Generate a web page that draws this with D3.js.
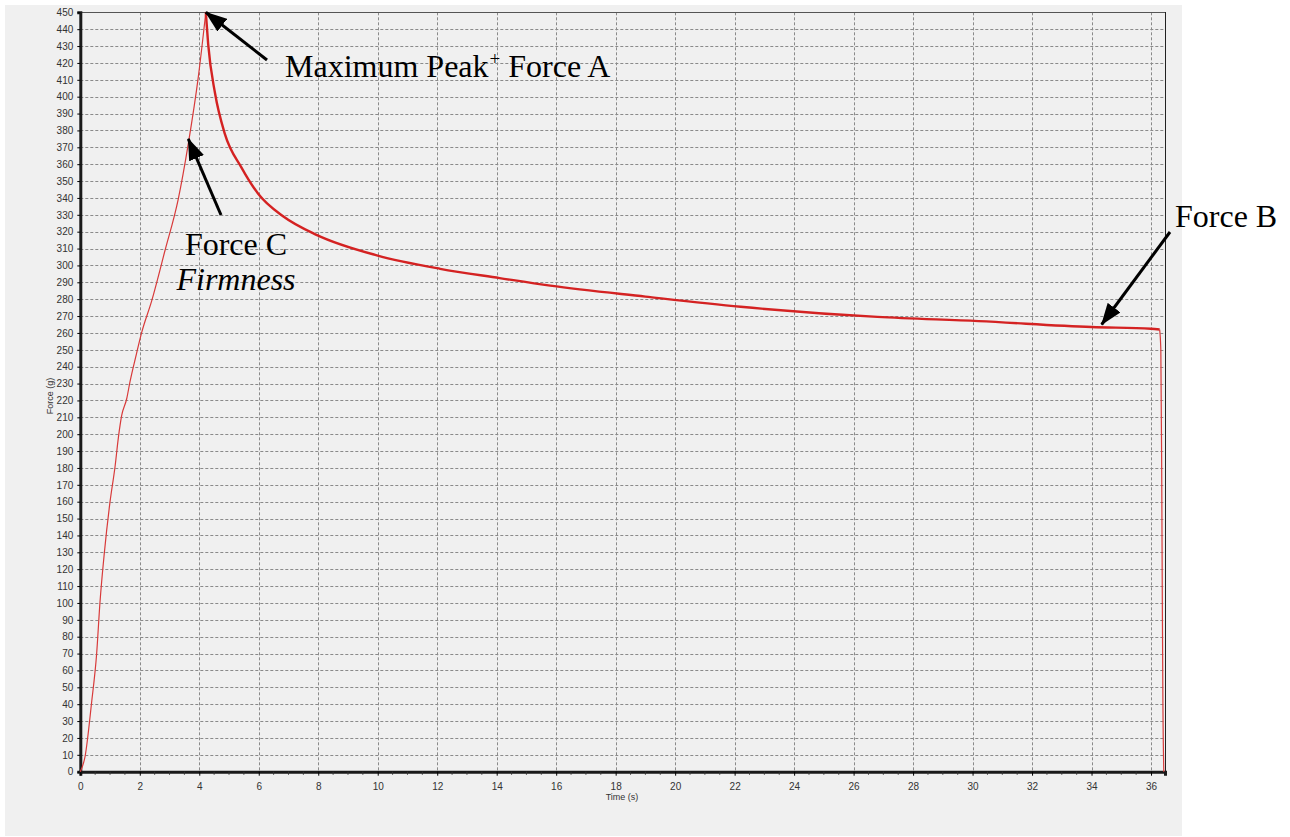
<!DOCTYPE html>
<html lang="en">
<head>
<meta charset="utf-8">
<title>Force vs Time</title>
<script src="https://cdn.jsdelivr.net/npm/d3@7/dist/d3.min.js"></script>
<style>
	body { margin: 0; background: #fff; }
	.tick-label { font-family: Arial, "Liberation Sans", sans-serif; font-size: 10px; fill: #333; }
	.note { font-family: "Times New Roman", "Liberation Serif", serif; font-size: 32px; fill: #000; }
</style>
</head>
<body>
<svg id="chart" width="1290" height="837"></svg>
<script type="text/javascript">

	// loading phase: probe pushing in, up to the peak
	var loadTime  = [0, 0.16, 0.38, 0.55, 0.66, 0.81, 1.0, 1.17, 1.28, 1.39, 1.56, 1.67, 1.88, 2.06, 2.40, 2.85, 3.29, 3.63, 3.97, 4.22];
	var loadForce = [0, 9, 41, 70, 100, 130, 160, 181, 198, 211, 221, 231, 247, 260, 279, 309, 339, 372, 412, 450];

	// relaxation phase: hold, force decays
	var relaxTime  = [4.22, 4.30, 4.53, 4.86, 5.42, 5.98, 6.83, 7.96, 9.97, 12.1, 14.1, 15.8, 19.0, 22.2, 26.8, 30.2, 34.0, 36.0, 36.29];
	var relaxForce = [450, 431, 402, 378, 358, 342.5, 329, 318, 306, 298, 292.5, 288, 281.5, 275.5, 269.5, 267, 263.5, 262.5, 262];

	// probe withdrawn
	var unloadTime  = [36.29, 36.33, 36.36, 36.38, 36.40, 36.43];
	var unloadForce = [262, 250, 175, 100, 40, 0];

	var xTicks = d3.range(0, 37, 2);
	var yTicks = d3.range(0, 451, 10);

	// annotations: arrow tip in data units
	var notes = [
		{ tip: [4.22, 450], tail: [267, 60] },
		{ tip: [3.63, 375], tail: [221, 215] },
		{ tip: [34.34, 265], tail: [1170, 232] }
	];

	var svg = d3.select("#chart");

	svg.append("rect")
		.attr("x", 5).attr("y", 5)
		.attr("width", 1177).attr("height", 831)
		.attr("fill", "#f0f0f0");

	var x = d3.scaleLinear().domain([0, 36.47]).range([80.3, 1165]);
	var y = d3.scaleLinear().domain([0, 450]).range([771.7, 12.3]);

	var g = svg.append("g");

	// grid
	g.append("g").selectAll("line")
		.data(yTicks.filter(function(d) { return d > 0; }))
		.enter().append("line")
		.attr("x1", x(0)).attr("x2", 1165)
		.attr("y1", function(d) { return Math.round(y(d)) + 0.5; })
		.attr("y2", function(d) { return Math.round(y(d)) + 0.5; })
		.attr("stroke", "#8a8a8a")
		.attr("stroke-dasharray", "3,2");

	g.append("g").selectAll("line")
		.data(xTicks.filter(function(d) { return d > 0; }))
		.enter().append("line")
		.attr("y1", y(450)).attr("y2", y(0))
		.attr("x1", function(d) { return Math.round(x(d)) + 0.5; })
		.attr("x2", function(d) { return Math.round(x(d)) + 0.5; })
		.attr("stroke", "#8a8a8a")
		.attr("stroke-dasharray", "3,2");

	// frame
	g.append("line")
		.attr("x1", x(0)).attr("x2", 1165)
		.attr("y1", 12.5).attr("y2", 12.5)
		.attr("stroke", "#555");
	g.append("line")
		.attr("x1", 1165.5).attr("x2", 1165.5)
		.attr("y1", 12).attr("y2", y(0))
		.attr("stroke", "#222");

	// y axis
	var yAxis = g.append("g")
		.attr("transform", "translate(" + x(0) + ",0)")
		.call(d3.axisLeft(y).tickValues(yTicks).tickSize(3).tickPadding(4));
	yAxis.select(".domain").attr("stroke", "#1a1a1a").attr("stroke-width", 3);
	yAxis.selectAll("text").attr("class", "tick-label").attr("fill", null);

	// x axis: major + minor
	var xAxis = g.append("g")
		.attr("transform", "translate(0," + y(0) + ")")
		.call(d3.axisBottom(x).tickValues(xTicks).tickSize(4).tickPadding(7));
	xAxis.select(".domain").attr("stroke", "#1a1a1a").attr("stroke-width", 3);
	xAxis.selectAll("text").attr("class", "tick-label").attr("fill", null);

	g.append("g").selectAll("line")
		.data(d3.range(0.5, 36.4, 0.5).filter(function(d) { return d % 2 !== 0; }))
		.enter().append("line")
		.attr("x1", function(d) { return x(d); })
		.attr("x2", function(d) { return x(d); })
		.attr("y1", y(0)).attr("y2", y(0) + 3)
		.attr("stroke", "#333");

	g.append("text")
		.attr("class", "tick-label")
		.attr("x", 622).attr("y", 800)
		.attr("text-anchor", "middle")
		.style("font-size", "9px")
		.text("Time (s)");

	g.append("text")
		.attr("class", "tick-label")
		.attr("transform", "translate(53,396) rotate(-90)")
		.attr("text-anchor", "middle")
		.style("font-size", "9px")
		.text("Force (g)");

	// curve
	var line = d3.line()
		.curve(d3.curveMonotoneX)
		.x(function(d) { return x(d[0]); })
		.y(function(d) { return y(d[1]); });

	g.append("path")
		.datum(d3.zip(loadTime, loadForce))
		.attr("d", line)
		.attr("fill", "none")
		.attr("stroke", "#d83a3a")
		.attr("stroke-width", 1.2);

	g.append("path")
		.datum(d3.zip(relaxTime, relaxForce))
		.attr("d", line)
		.attr("fill", "none")
		.attr("stroke", "#d42222")
		.attr("stroke-width", 2.4);

	g.append("path")
		.datum(d3.zip(unloadTime, unloadForce))
		.attr("d", line)
		.attr("fill", "none")
		.attr("stroke", "#d83a3a")
		.attr("stroke-width", 1.2);

	// arrows
	svg.append("defs").append("marker")
		.attr("id", "head")
		.attr("markerUnits", "userSpaceOnUse")
		.attr("markerWidth", 22).attr("markerHeight", 16)
		.attr("refX", 21).attr("refY", 8)
		.attr("orient", "auto")
		.append("path")
		.attr("d", "M0,0 L22,8 L0,16 Z")
		.attr("fill", "#000");

	svg.append("g").selectAll("line")
		.data(notes)
		.enter().append("line")
		.attr("x1", function(d) { return d.tail[0]; })
		.attr("y1", function(d) { return d.tail[1]; })
		.attr("x2", function(d) { return x(d.tip[0]); })
		.attr("y2", function(d) { return y(d.tip[1]); })
		.attr("stroke", "#000")
		.attr("stroke-width", 3)
		.attr("marker-end", "url(#head)");

	var peak = svg.append("text").attr("class", "note").attr("x", 285).attr("y", 77);
	peak.append("tspan").text("Maximum Peak");
	peak.append("tspan").attr("dy", -12).attr("dx", 1).style("font-size", "19px").text("+");
	peak.append("tspan").attr("dy", 12).text(" Force A");

	svg.append("text").attr("class", "note")
		.attr("x", 236).attr("y", 255).attr("text-anchor", "middle")
		.text("Force C");
	svg.append("text").attr("class", "note")
		.attr("x", 236).attr("y", 290).attr("text-anchor", "middle")
		.style("font-style", "italic")
		.text("Firmness");

	svg.append("text").attr("class", "note")
		.attr("x", 1175).attr("y", 227)
		.text("Force B");

</script>
</body>
</html>
